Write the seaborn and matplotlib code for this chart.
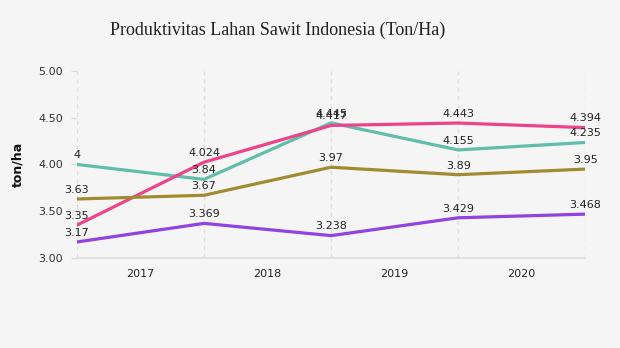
import matplotlib
matplotlib.use("Agg")
import matplotlib.pyplot as plt
import seaborn as sns
import pandas as pd

years = ["2017", "2018", "2019", "2020"]
point_index = [0, 1, 2, 3, 4]
teal_vals = [4.0, 3.84, 4.445, 4.155, 4.235]
pink_vals = [3.35, 4.024, 4.417, 4.443, 4.394]
olive_vals = [3.63, 3.67, 3.97, 3.89, 3.95]
purple_vals = [3.17, 3.369, 3.238, 3.429, 3.468]
teal_labels = ["4", "3.84", "4.445", "4.155", "4.235"]
pink_labels = ["3.35", "4.024", "4.417", "4.443", "4.394"]
olive_labels = ["3.63", "3.67", "3.97", "3.89", "3.95"]
purple_labels = ["3.17", "3.369", "3.238", "3.429", "3.468"]
y_ticks = [3.0, 3.5, 4.0, 4.5, 5.0]

series = [
    ("Seri 1", teal_vals, teal_labels, "#5fbea9"),
    ("Seri 2", pink_vals, pink_labels, "#ee4389"),
    ("Seri 3", olive_vals, olive_labels, "#a08b30"),
    ("Seri 4", purple_vals, purple_labels, "#9242e0"),
]

rows = []
for name, vals, _, _ in series:
    for x, v in zip(point_index, vals):
        rows.append({"x": x, "y": v, "series": name})
df = pd.DataFrame(rows)

sns.set_theme(style="white")
plt.rcParams["font.family"] = ["DejaVu Sans"]

fig = plt.figure(figsize=(6.2, 3.48), dpi=100)
fig.patch.set_facecolor("#f5f5f5")
ax = fig.add_axes([0.124, 0.259, 0.820, 0.537])
ax.set_facecolor("#f5f5f5")

palette = {name: c for name, _, _, c in series}
sns.lineplot(data=df, x="x", y="y", hue="series", palette=palette,
             linewidth=2.3, legend=False, ax=ax)

for name, vals, labels, c in series:
    for x, v, lab in zip(point_index, vals, labels):
        ax.annotate(lab, (x, v), xytext=(0, 3), textcoords="offset points",
                    ha="center", va="bottom", fontsize=8, color="#222222")

ax.set_xlim(point_index[0], point_index[-1])
ax.set_ylim(3.0, 5.0)
ax.set_yticks(y_ticks)
ax.set_yticklabels([f"{t:.2f}" for t in y_ticks], fontsize=8, color="#333333")
ax.set_xticks(point_index)
ax.set_xticklabels([])
ax.set_xticks([i + 0.5 for i in range(len(years))], minor=True)
ax.set_xticklabels(years, minor=True, fontsize=8, color="#222222")
ax.tick_params(axis="x", which="major", length=5, color="#dddddd", width=1)
ax.tick_params(axis="x", which="minor", length=0, pad=8)
ax.tick_params(axis="y", length=4, color="#dddddd", width=1, left=True, pad=6)

for x in point_index:
    ax.axvline(x, color="#dddddd", linestyle=(0, (3, 3)), linewidth=1, zorder=0)

for s in ["top", "right", "left"]:
    ax.spines[s].set_visible(False)
ax.spines["bottom"].set_color("#e0e0e0")
ax.spines["bottom"].set_linewidth(1.5)

ax.set_xlabel("")
ax.set_ylabel("ton/ha", fontsize=9, fontweight="bold", color="#111111", labelpad=10)

fig.text(0.447, 0.912, "Produktivitas Lahan Sawit Indonesia (Ton/Ha)",
         ha="center", va="center", fontsize=13, family="Liberation Serif",
         color="#222222")

fig.savefig("out.png", dpi=100, facecolor=fig.get_facecolor())
